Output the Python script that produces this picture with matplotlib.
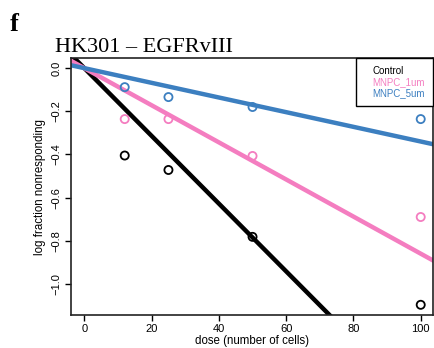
import matplotlib.pyplot as plt
from matplotlib.lines import Line2D

# doses and log fraction nonresponding per group
dose = [12, 25, 50, 100]
control = [-0.405, -0.472, -0.782, -1.097]
mnpc_1um = [-0.236, -0.236, -0.407, -0.690]
mnpc_5um = [-0.088, -0.134, -0.180, -0.236]

groups = ['Control', 'MNPC_1um', 'MNPC_5um']
values = [control, mnpc_1um, mnpc_5um]
slopes = [-0.0157, -0.0086, -0.0034]   # fitted lines through origin
colors = ['black', '#F47DC0', '#3C7FC0']
yticks = [0.0, -0.2, -0.4, -0.6, -0.8, -1.0]

plt.rcParams['font.family'] = ['Liberation Sans', 'DejaVu Sans']

fig = plt.figure(figsize=(4.35, 3.48), dpi=100)
ax = fig.add_axes([0.163, 0.095, 0.832, 0.737])

for vals, s, c in zip(values, slopes, colors):
    ax.axline((0, 0), slope=s, color=c, lw=3.2, zorder=2)
    ax.scatter(dose, vals, s=34, facecolors='none', edgecolors=c, linewidths=1.3, zorder=3)

ax.set_xlim(-4, 103.6)
ax.set_ylim(-1.144, 0.045)
ax.set_xticks([0, 20, 40, 60, 80, 100])
ax.set_yticks(yticks)
ax.set_yticklabels([f'{v:.1f}'.replace('-', '\u2212') for v in yticks], rotation=90, va='center')
ax.tick_params(direction='out', length=4.5, width=1, labelsize=8, pad=2)
for sp in ax.spines.values():
    sp.set_linewidth(1.2)
    sp.set_color('#222222')

ax.set_xlabel('dose (number of cells)', fontsize=8.3, labelpad=1)
ax.set_ylabel('log fraction nonresponding', fontsize=8.3, labelpad=4)

handles = [Line2D([], [], lw=0) for _ in groups]
leg = ax.legend(handles, groups, loc='upper right', fontsize=7, handlelength=0.7,
                handletextpad=0.2, fancybox=False, framealpha=1, edgecolor='black',
                borderaxespad=0, borderpad=0.8, labelspacing=0.12)
leg.get_frame().set_linewidth(1.0)
for t, c in zip(leg.get_texts(), colors):
    t.set_color(c)

fig.text(0.127, 0.852, 'HK301 – EGFRvIII', family='Liberation Serif', fontsize=16)
fig.text(0.023, 0.91, 'f', family='Liberation Serif', fontsize=19, fontweight='bold')

fig.savefig('out.png', dpi=100)
